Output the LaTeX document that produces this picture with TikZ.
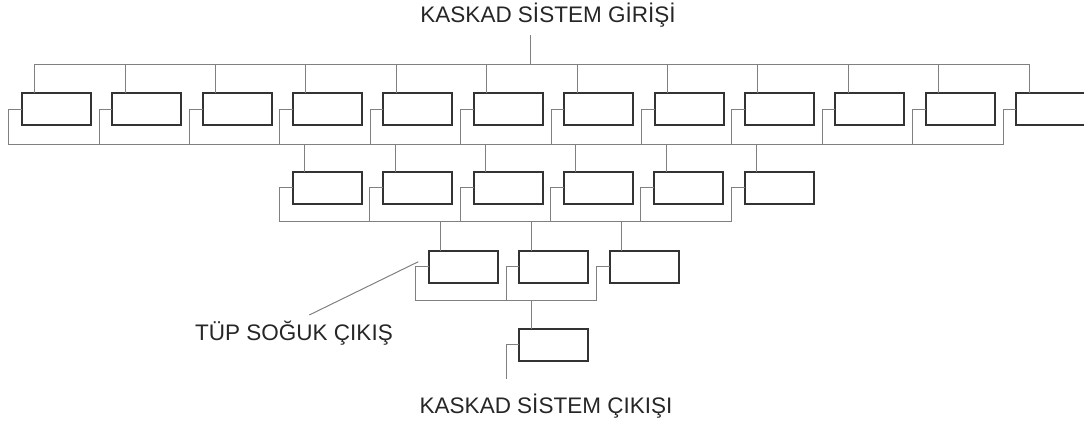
\documentclass[tikz,border=0pt]{standalone}
\usepackage{fontspec}
\setmainfont{Liberation Sans}
\usetikzlibrary{positioning,calc}

\begin{document}
\begin{tikzpicture}[
    x=1pt, y=-1pt,
    tube/.style={draw=black!80, line width=2pt, minimum width=69pt, minimum height=31.7pt, inner sep=0pt, outer sep=0pt},
    pipe/.style={draw=black!50, line width=1pt},
    caption/.style={font=\fontsize{22.5}{26}\selectfont, text=black!85, inner sep=0pt, anchor=base}
]
    \useasboundingbox (0,0) rectangle (1084,426);
    \clip (0,0) rectangle (1084,426);

    % texts
    \node[caption] (inlabel) at (548,22.7) {KASKAD SİSTEM GİRİŞİ};
    \node[caption] (outlabel) at (546,413.3) {KASKAD SİSTEM ÇIKIŞI};
    \node[caption] (coldlabel) at (294,340) {TÜP SOĞUK ÇIKIŞ};

    % tubes, four stages
    \foreach \i in {1,...,12}
        \node[tube] (A\i) at ({56.2+90.4*(\i-1)},109.2) {};
    \foreach \i in {1,...,6}
        \node[tube] (B\i) at ({327.2+90.4*(\i-1)},187.8) {};
    \foreach \i in {1,...,3}
        \node[tube] (C\i) at ({463.2+90.4*(\i-1)},266.8) {};
    \node[tube] (D) at (553.5,344.7) {};

    % collectors
    \coordinate (intop) at (530.7,35);
    \coordinate (in) at (530.7,64.7);
    \coordinate (bus1) at (505,144);
    \coordinate (bus2) at (505,221.7);
    \coordinate (bus3) at (506,300.7);
    \coordinate (out) at (506,379);

    \draw[pipe] (intop) -- (in);
    \foreach \i in {1,...,12} {
        \draw[pipe] ($(A\i.north west)+(13,0)$) |- (in);
        \draw[pipe] (A\i.west) -- ++(-13,0) |- (bus1);
    }
    \foreach \i in {1,...,6} {
        \draw[pipe] ($(B\i.north west)+(12,0)$) |- (bus1);
        \draw[pipe] (B\i.west) -- ++(-13.5,0) |- (bus2);
    }
    \foreach \i in {1,...,3} {
        \draw[pipe] ($(C\i.north west)+(12,0)$) |- (bus2);
        \draw[pipe] (C\i.west) -- ++(-13,0) |- (bus3);
    }
    \draw[pipe] ($(D.north west)+(12.3,0)$) |- (bus3);
    \draw[pipe] (D.west) -| (out);

    % cold outlet pointer
    \coordinate (coldtip) at (309.3,315);
    \coordinate (coldend) at (418.3,261.7);
    \draw[pipe] (coldtip) -- (coldend);
\end{tikzpicture}
\end{document}
